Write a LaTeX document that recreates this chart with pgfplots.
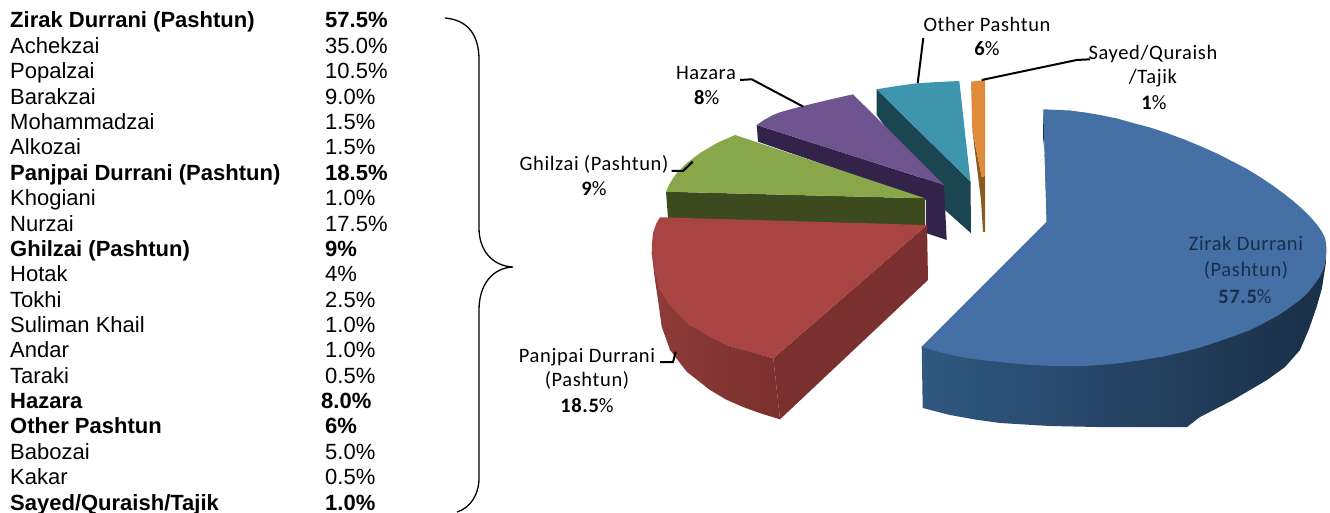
\documentclass[border=0pt]{standalone}
\usepackage{fontspec}
\usepackage{pgfplots}
\pgfplotsset{compat=1.18}
\setmainfont{Liberation Sans}
\newfontfamily\calib[LetterSpace=3]{Carlito}
\definecolor{bluetop}{HTML}{4470A6}
\definecolor{blueL}{HTML}{305880}
\definecolor{blueR}{HTML}{1A2F47}
\definecolor{redtop}{HTML}{A84442}
\definecolor{redL}{HTML}{8E3B39}
\definecolor{redR}{HTML}{7A302E}
\definecolor{greentop}{HTML}{88A64A}
\definecolor{greenside}{HTML}{3C4A1E}
\definecolor{purpletop}{HTML}{70548F}
\definecolor{purpleside}{HTML}{33234A}
\definecolor{tealtop}{HTML}{3D96AE}
\definecolor{tealside}{HTML}{1C4552}
\definecolor{orangetop}{HTML}{E08A3C}
\definecolor{orangeside}{HTML}{8A5A20}
\newcommand{\tb}[3]{\node[anchor=base west,inner sep=0pt,font=\fontsize{22}{26}\selectfont] at (axis cs:10,#1) {#2};\node[anchor=base west,inner sep=0pt,font=\fontsize{22}{26}\selectfont] at (axis cs:325,#1) {#3};}
\newcommand{\tbb}[3]{\node[anchor=base west,inner sep=0pt,font=\fontsize{22}{26}\selectfont\bfseries] at (axis cs:10,#1) {#2};\node[anchor=base west,inner sep=0pt,font=\fontsize{22}{26}\selectfont\bfseries] at (axis cs:325,#1) {#3};}
\newcommand{\lb}[3]{\node[anchor=base,inner sep=0pt,font=\fontsize{20.5}{24}\selectfont\calib,#1] at (axis cs:#2) {#3};}
\begin{document}
\begin{tikzpicture}
\begin{axis}[scale only axis,width=1330pt,height=513pt,xmin=0,xmax=1330,ymin=0,ymax=513,y dir=reverse,axis lines=none,clip=true]
\addplot[draw=none,fill=white,forget plot] coordinates {(0,0)(1330,0)(1330,513)(0,513)} \closedcycle;
% Other Pashtun
\addplot[draw=none,fill=tealside] coordinates {(876.7,89.3)(970.5,181.7)(971,233.3)(945,210)(876.7,115)} -- cycle;
\addplot[draw=none,fill=tealtop] coordinates {(876.7,89.3)(897,86)(916.7,83.3)(938,82)(959.3,81)(962,105)(965,133)(970.5,181.7)} -- cycle;
% Sayed
\addplot[draw=none,fill=orangeside] coordinates {(972.3,130)(981.7,176.7)(985,176)(985,232)(983,232)(981,200)} -- cycle;
\addplot[draw=none,fill=orangetop] coordinates {(971,81.7)(985,80)(985,176)(981.7,176.7)(972.3,130)} -- cycle;
% Zirak
\addplot[draw=none,left color=blueL,right color=blueR] coordinates {(921.7,346.7)(922.7,408)(950,415)(975,419.5)(1000,423)(1050,426)(1097,427)(1187,427)(1200,417)(1233,400)(1267,380)(1285,367)(1300,350)(1309,329)(1316.7,306.7)(1322,288)(1326,262)(1326,243)(1250,330)(1100,365)} -- cycle;
\addplot[draw=none,fill=blueR] coordinates {(1043.3,109.3)(1043,137)(1051,217)(1046.7,221.7)} -- cycle;
\addplot[draw=none,fill=bluetop] coordinates {(1046.7,221.7)(1043.3,109.3)(1070,110.5)(1085,112.5)(1100,115)(1117,118.5)(1133,123)(1150,127.5)(1166.7,133)(1183,139)(1200,146)(1217,153.5)(1233,161.7)(1247,169)(1260,177)(1272,185)(1283,193)(1292,200)(1300,207)(1307,213.5)(1313,220)(1318,226)(1322,232)(1325,238)(1326,243)(1326.5,250)(1326,257)(1325,264)(1323,270)(1319,278)(1314,285)(1307.5,293)(1300,300)(1289,308)(1277,316)(1264,323)(1250,330)(1234,336)(1217,342)(1200,347.5)(1183,352)(1163,356.5)(1142,360)(1121,363)(1100,365)(1083,366)(1067,366.2)(1050,365.8)(1033,365)(1016,363.8)(1000,362)(983,360.2)(967,358)(955,355.8)(943,353)(932,350)(921.7,346.7)} -- cycle;
% Hazara
\addplot[draw=none,fill=purpleside] coordinates {(756.7,125)(944,185)(946.7,240)(926,233)(926,200)(758,141.7)} -- cycle;
\addplot[draw=none,fill=purpletop] coordinates {(756.7,125)(764,120)(773,115)(780,112.3)(788,110)(803,106)(828,100)(853,94.3)(944,185)} -- cycle;
% Ghilzai
\addplot[draw=none,fill=greenside] coordinates {(666,191.7)(925,198.3)(925,226)(668,218)} -- cycle;
\addplot[draw=none,fill=greentop] coordinates {(666,191.7)(670,183)(676.7,173)(687,163)(700,153)(717,143)(735,135)(925,198.3)} -- cycle;
% Panjpai
\addplot[draw=none,fill=redR] coordinates {(927,225)(928,280)(780,419.3)(773.3,358.3)} -- cycle;
\addplot[draw=none,left color=redL,right color=redR] coordinates {(651.7,253.3)(655,280)(658,300)(661.7,326.7)(670,350)(686.7,371.7)(710,390)(726,399.5)(743,407)(761,413.5)(780,419.3)(773.3,358.3)(726.7,345)(690,325)(660,290)} -- cycle;
\addplot[draw=none,fill=redtop] coordinates {(660,217.3)(927,225)(773.3,358.3)(750,352)(726.7,345)(708,336)(690,325)(679,315)(668,303)(660,290)(655,272)(651.7,253.3)(652,243)(653,233)(656,224)} -- cycle;
% leaders
\addplot[black,line width=2pt] coordinates {(923.3,38)(917.7,83)};
\addplot[black,line width=2pt] coordinates {(740,80)(751.7,79.3)(803.3,106.7)};
\addplot[black,line width=2pt] coordinates {(671.7,171)(683,171)(692.7,161.7)};
\addplot[black,line width=2pt] coordinates {(1090,59.3)(1076.7,60)(981.7,80)};
\addplot[black,line width=2pt] coordinates {(660,362)(673,362)(675.7,351.7)};
% brace
\draw[black,line width=1.3pt] (axis cs:445,18) .. controls (axis cs:468,20) and (axis cs:479,35) .. (axis cs:479,60) -- (axis cs:479,228) .. controls (axis cs:479,250) and (axis cs:492,266) .. (axis cs:513,267) .. controls (axis cs:492,268) and (axis cs:479,285) .. (axis cs:479,310) -- (axis cs:479,478) .. controls (axis cs:479,495) and (axis cs:470,508) .. (axis cs:457,512);
% chart labels
\lb{}{987,32}{Other Pashtun}
\lb{}{987,56}{{\bfseries 6}\%}
\lb{}{1153,60}{Sayed/Quraish}
\lb{}{1153,84}{/Tajik}
\lb{}{1154,110}{{\bfseries 1}\%}
\lb{}{706,80}{Hazara}
\lb{}{706.7,105}{{\bfseries 8}\%}
\lb{}{594,171}{Ghilzai (Pashtun)}
\lb{}{594,196}{{\bfseries 9}\%}
\lb{}{587,362}{Panjpai Durrani}
\lb{}{587,386}{(Pashtun)}
\lb{}{587,412}{{\bfseries 18.5}\%}
\lb{text=blueR}{1246,251}{Zirak Durrani}
\lb{text=blueR}{1246,276}{(Pashtun)}
\lb{text=blueR}{1245,303}{{\bfseries 57.5}\%}
% table
\tbb{28}{Zirak Durrani (Pashtun)}{57.5\%}
\tb{53.4}{Achekzai}{35.0\%}
\tb{78.7}{Popalzai}{10.5\%}
\tb{104.1}{Barakzai}{9.0\%}
\tb{129.5}{Mohammadzai}{1.5\%}
\tb{154.9}{Alkozai}{1.5\%}
\tbb{180.2}{Panjpai Durrani (Pashtun)}{18.5\%}
\tb{205.6}{Khogiani}{1.0\%}
\tb{231}{Nurzai}{17.5\%}
\tbb{256.3}{Ghilzai (Pashtun)}{9\%}
\tb{281.7}{Hotak}{4\%}
\tb{307.1}{Tokhi}{2.5\%}
\tb{332.4}{Suliman Khail}{1.0\%}
\tb{357.8}{Andar}{1.0\%}
\tb{383.2}{Taraki}{0.5\%}
\tbb{408.6}{Hazara}{\hspace{-4pt}8.0\%}
\tbb{433.9}{Other Pashtun}{6\%}
\tb{459.3}{Babozai}{5.0\%}
\tb{484.7}{Kakar}{0.5\%}
\tbb{510}{Sayed/Quraish/Tajik}{1.0\%}
\end{axis}
\end{tikzpicture}
\end{document}
